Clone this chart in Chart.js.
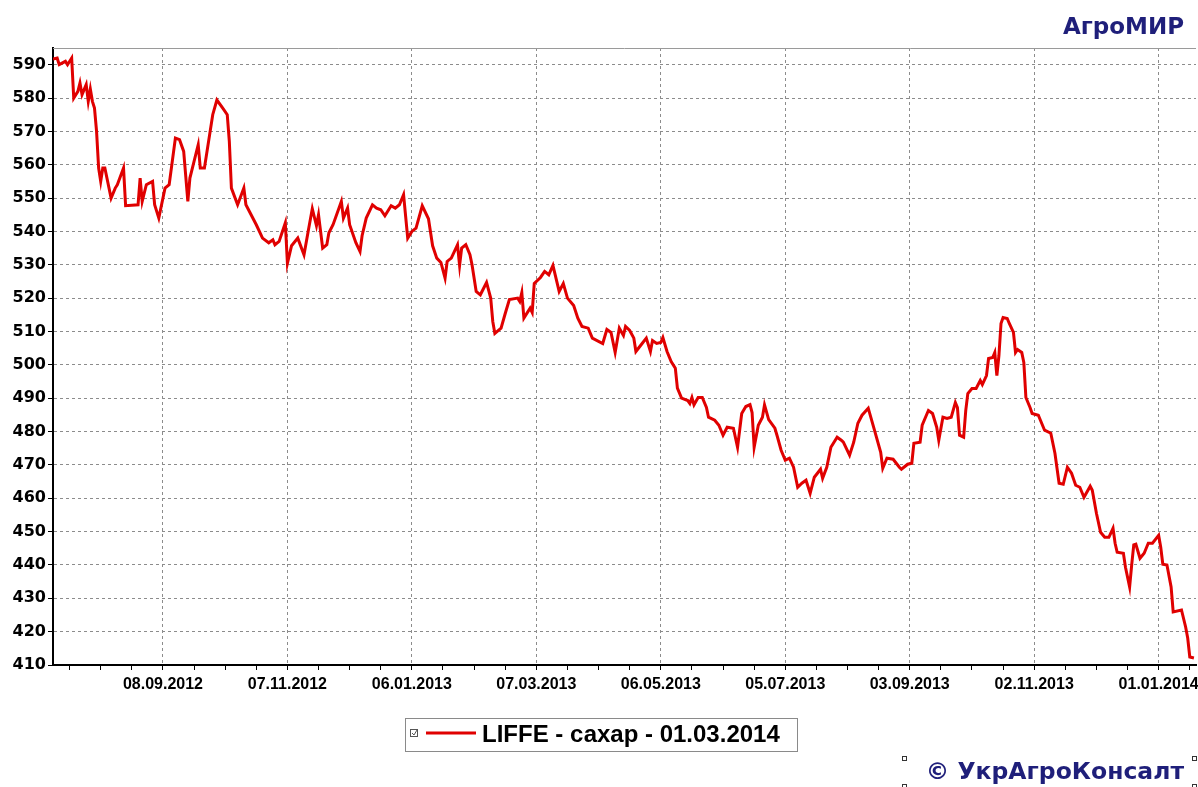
<!DOCTYPE html>
<html>
<head>
<meta charset="utf-8">
<script src="https://cdn.jsdelivr.net/npm/chart.js@4.4.0/dist/chart.umd.min.js"></script>
<style>
  html, body { margin: 0; padding: 0; background: #fff; }
  #wrap { width: 1198px; height: 787px; position: relative; }
</style>
</head>
<body>
<div id="wrap"><canvas id="sugarChart"></canvas></div>
<script>
// dates: day offsets from the first trading day
const startDate = '17.07.2012';
const dayOffsets = [
  0, 2, 3, 6, 7, 9, 10, 12, 13, 14, 16, 17, 18, 19, 20, 21, 22, 23, 24, 25,
  28, 30, 31, 34, 35, 41, 42, 43, 45, 48, 49, 51, 54, 56, 59, 61, 63, 65, 66, 68,
  70, 71, 73, 77, 79, 82, 84, 85, 86, 89, 92, 93, 98, 101, 104, 106, 107, 109, 112, 113,
  115, 118, 121, 123, 125, 127, 128, 130, 132, 133, 135, 139, 140, 142, 143, 146, 148, 149, 151, 154,
  156, 158, 160, 163, 165, 167, 169, 171, 173, 175, 178, 181, 183, 185, 187, 189, 190, 192, 195, 196,
  197, 199, 201, 202, 204, 206, 209, 211, 212, 213, 216, 218, 220, 224, 225, 226, 227, 230, 231, 232,
  235, 237, 239, 241, 244, 246, 248, 251, 253, 255, 258, 260, 265, 267, 269, 271, 273, 275, 276, 278,
  280, 281, 284, 286, 288, 289, 291, 293, 294, 296, 298, 300, 301, 303, 306, 307, 308, 309, 311, 313,
  315, 316, 319, 321, 323, 325, 328, 330, 332, 334, 336, 337, 338, 340, 342, 343, 345, 348, 349, 351,
  353, 355, 357, 359, 361, 363, 365, 367, 370, 371, 373, 375, 378, 380, 381, 384, 386, 388, 390, 393,
  396, 399, 400, 402, 405, 408, 409, 412, 414, 415, 418, 419, 422, 424, 426, 427, 429, 431, 433, 435,
  436, 437, 439, 440, 441, 443, 445, 447, 448, 450, 451, 453, 454, 455, 456, 457, 458, 460, 461, 463,
  464, 465, 467, 468, 469, 471, 472, 475, 478, 481, 483, 485, 487, 489, 491, 493, 495, 497, 500, 501,
  503, 505, 507, 509, 511, 512, 513, 516, 517, 519, 520, 521, 522, 524, 526, 528, 530, 533, 534, 535,
  537, 539, 540, 544, 546, 547, 548, 550
];
const prices = [
  591.7, 592, 590, 591, 590, 592, 580, 582, 584.5, 581, 584, 579, 582.7, 579, 577, 570, 559, 555, 559, 559,
  550, 553, 554, 559, 547.7, 548, 556, 549, 554, 555, 548, 544, 553, 554, 568, 567.5, 564, 549, 556, 561,
  566, 559, 559, 575, 579.4, 576.8, 575, 567, 553, 548, 553, 548, 542, 538, 536.6, 537.5, 536, 537, 542.6, 530.4,
  535.7, 538, 533, 540, 546.8, 541.7, 545, 535, 536, 539.6, 542, 549, 544, 547, 542, 536.6, 534, 538.7, 544, 548,
  547, 546.5, 544.7, 547.7, 547, 548, 551, 538, 540, 541, 547.7, 543.8, 535.7, 532, 530.7, 526, 531, 532, 536, 529.8,
  535, 536, 533, 530, 522, 521, 524.7, 520, 513, 509.4, 511, 515.4, 519.6, 520, 519, 521.7, 514, 517, 515.7, 524.4,
  526.2, 528, 527, 529.8, 522, 524.4, 520, 517.8, 514, 511.5, 511, 508, 506.4, 510.6, 509.7, 503.7, 511, 508.8, 511.5, 510.3,
  508, 504, 506.4, 508, 504, 507.3, 506.4, 506.7, 508.2, 504, 501, 499, 493, 490, 489.3, 488.4, 490.2, 488, 490.2, 490.2,
  487.2, 484.3, 483.4, 481.9, 478.9, 481.3, 481, 475.3, 485.4, 487.5, 488.1, 485.7, 475.3, 481.9, 484.3, 488, 483.6, 481, 478.9, 474.4,
  471.4, 472, 469.3, 463.3, 464.5, 465.4, 461.5, 466.3, 468.7, 466, 469.3, 475.3, 478.3, 477.4, 476.8, 472.9, 476.8, 482.5, 484.9, 487,
  480.4, 473.8, 469, 472, 471.7, 469.3, 468.7, 470.2, 470.5, 476.5, 476.8, 481.9, 486.3, 485.4, 481.3, 477.4, 484.3, 483.9, 484.3, 488.7,
  487.2, 478.9, 478.3, 486.3, 491.4, 492.9, 492.9, 495.3, 494.1, 496.8, 501.9, 502.2, 503.7, 496.8, 502.8, 512.4, 514.2, 513.9, 512.4, 509.7,
  503.7, 504.6, 503.7, 500.7, 490.2, 487.2, 485.4, 484.9, 480.4, 479.5, 473.5, 464.5, 464.2, 469.3, 467.5, 463.9, 463.3, 460.3, 463.6, 462.4,
  455.5, 449.8, 448.3, 448.3, 451, 446.5, 443.8, 443.5, 439.3, 433.4, 440, 446, 446.2, 442, 443.5, 446.5, 446.5, 448.9, 445.3, 440.2,
  440, 433.4, 425.9, 426.5, 421.4, 418.1, 412.4, 412.1
];
const tickLabels = ['08.09.2012', '07.11.2012', '06.01.2013', '07.03.2013', '06.05.2013',
  '05.07.2013', '03.09.2013', '02.11.2013', '01.01.2014'];
const yTicks = [410, 420, 430, 440, 450, 460, 470, 480, 490, 500, 510, 520, 530, 540, 550, 560, 570, 580, 590];
const seriesLabel = 'LIFFE - сахар - 01.03.2014';
const titleText = 'АгроМИР';
const footerText = '© УкрАгроКонсалт';

const DAY = 86400000;
function parseDate(s) {
  const p = s.split('.').map(Number);
  return Date.UTC(p[2], p[1] - 1, p[0]);
}
const t0 = parseDate(startDate);
const tickDays = tickLabels.map(l => Math.round((parseDate(l) - t0) / DAY));
const xMax = 551;

// minor ticks every 15 days, labels every 60
const xTicks = [];
for (let d = tickDays[0] % 15; d <= xMax; d += 15) xTicks.push(d);

const navy = '#1f1f7a';

const decor = {
  id: 'decor',
  afterDraw(chart) {
    const c = chart.ctx;
    const a = chart.chartArea;
    c.save();
    // top frame
    c.strokeStyle = '#9a9a9a';
    c.lineWidth = 1;
    c.beginPath();
    c.moveTo(a.left, a.top + 0.5);
    c.lineTo(a.right, a.top + 0.5);
    c.stroke();

    // title
    c.fillStyle = navy;
    c.font = 'bold 23px "DejaVu Sans"';
    c.textAlign = 'right';
    c.textBaseline = 'middle';
    c.fillText(titleText, 1184, 28);

    // legend box
    c.strokeStyle = '#8a8a8a';
    c.strokeRect(405.5, 718.5, 392, 33);
    c.strokeStyle = '#555';
    c.strokeRect(410.5, 729.5, 7, 7);
    c.beginPath();
    c.moveTo(412, 733); c.lineTo(414, 735); c.lineTo(417, 730);
    c.stroke();
    c.strokeStyle = '#e00000';
    c.lineWidth = 3;
    c.beginPath();
    c.moveTo(426, 733); c.lineTo(476, 733);
    c.stroke();
    c.fillStyle = '#000';
    c.font = 'bold 24px "Liberation Sans", Arial';
    c.textAlign = 'left';
    c.fillText(seriesLabel, 482, 735);

    // footer
    c.fillStyle = navy;
    c.font = 'bold 23.5px "DejaVu Sans"';
    c.textAlign = 'right';
    c.fillText(footerText, 1184, 773);
    c.strokeStyle = '#333';
    c.lineWidth = 1;
    [[902, 756], [1192, 756], [902, 784], [1192, 784]].forEach(p => c.strokeRect(p[0] + 0.5, p[1] + 0.5, 4, 4));
    c.restore();
  }
};

const ctx = document.getElementById('sugarChart').getContext('2d');
const sugarChart = new Chart(ctx, {
  type: 'line',
  data: {
    datasets: [{
      label: seriesLabel,
      data: dayOffsets.map((d, i) => ({ x: d, y: prices[i] })),
      borderColor: '#e00000',
      borderWidth: 3,
      pointRadius: 0,
      tension: 0,
      fill: false
    }]
  },
  options: {
    responsive: true,
    maintainAspectRatio: false,
    animation: false,
    layout: { padding: { top: 48, right: 2, left: 0, bottom: 0 } },
    plugins: {
      legend: { display: false },
      tooltip: { enabled: false }
    },
    scales: {
      x: {
        type: 'linear',
        min: 0,
        max: xMax,
        afterBuildTicks: s => { s.ticks = xTicks.map(v => ({ value: v })); },
        afterFit: s => { s.height = 122; },
        grid: {
          color: c => (c.tick && tickDays.includes(c.tick.value)) ? '#8c8c8c' : 'rgba(0,0,0,0)',
          tickColor: '#000',
          tickLength: 5
        },
        border: { color: '#000', width: 2, dash: [3, 3] },
        ticks: {
          autoSkip: false,
          maxRotation: 0,
          padding: 5,
          color: '#000',
          font: { family: 'Liberation Sans', size: 16, weight: 'bold' },
          callback: v => {
            const i = tickDays.indexOf(v);
            return i >= 0 ? tickLabels[i] : '';
          }
        }
      },
      y: {
        min: 410,
        max: 595,
        afterBuildTicks: s => { s.ticks = yTicks.map(v => ({ value: v })); },
        afterFit: s => { s.width = 53; },
        grid: { color: '#8c8c8c', tickColor: '#000', tickLength: 5 },
        border: { color: '#000', width: 2, dash: [3, 3] },
        ticks: {
          padding: 2,
          color: '#000',
          font: { family: 'DejaVu Sans', size: 16, weight: 'bold' }
        }
      }
    }
  },
  plugins: [decor]
});
</script>
</body>
</html>
